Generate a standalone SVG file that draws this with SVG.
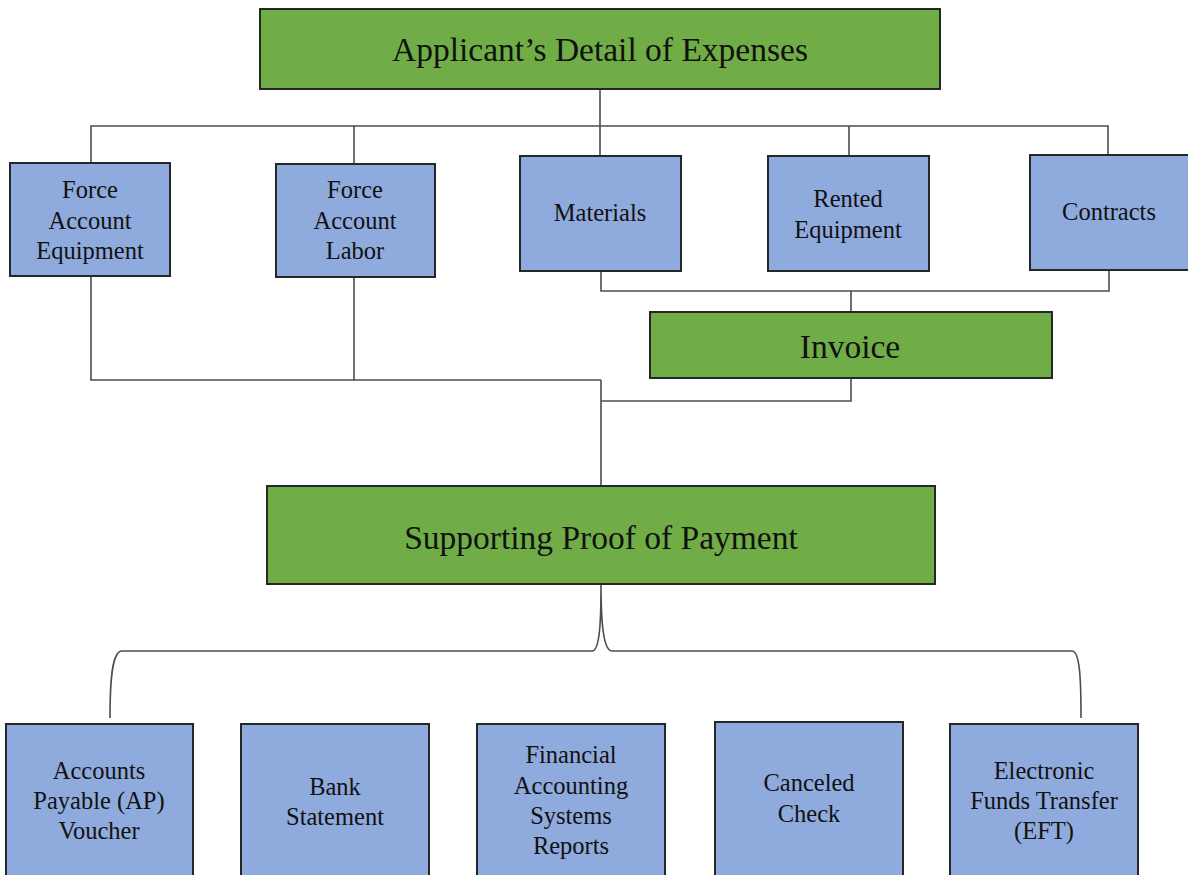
<svg xmlns="http://www.w3.org/2000/svg" width="1188" height="875" viewBox="0 0 1188 875">
<style>
.g{fill:#70ad47;stroke:#262626;stroke-width:2}
.b{fill:#8faadc;stroke:#262626;stroke-width:2}
.c{fill:none;stroke:#4d4d4d;stroke-width:1.6}
text{font-family:"Liberation Serif","Times New Roman",serif;fill:#111;text-anchor:middle}
.t{font-size:33.5px}
.s{font-size:24.5px}
</style>
<rect width="1188" height="875" fill="#fff"/>
<g id="connectors">
<path class="c" d="M600 89V156M91 163V126H1108V155M354 126V164M849 126V156"/>
<path class="c" d="M601 271V291H1109V270M851 291V312"/>
<path class="c" d="M91 276V380H601M354 277V380M851 378V401H601M601 380V486"/>
<path class="c" d="M601 584C601 620 600 651 592 651H122C112 651 110 680 110 718M601 584C601 620 603 651 612 651H1072C1080 651 1081 680 1081 718"/>
</g>
<g id="applicant"><rect class="g" x="260" y="9" width="680" height="80"/><text class="t" x="600" y="61">Applicant’s Detail of Expenses</text></g>
<g id="fae"><rect class="b" x="10" y="163" width="160" height="113"/><text class="s" x="90" y="198">Force</text><text class="s" x="90" y="229">Account</text><text class="s" x="90" y="259">Equipment</text></g>
<g id="fal"><rect class="b" x="276" y="164" width="159" height="113"/><text class="s" x="355" y="198">Force</text><text class="s" x="355" y="229">Account</text><text class="s" x="355" y="259">Labor</text></g>
<g id="materials"><rect class="b" x="520" y="156" width="161" height="115"/><text class="s" x="600" y="221">Materials</text></g>
<g id="rented"><rect class="b" x="768" y="156" width="161" height="115"/><text class="s" x="848" y="207">Rented</text><text class="s" x="848" y="238">Equipment</text></g>
<g id="contracts"><rect class="b" x="1030" y="155" width="160" height="115"/><text class="s" x="1109" y="220">Contracts</text></g>
<g id="invoice"><rect class="g" x="650" y="312" width="402" height="66"/><text class="t" x="850" y="358">Invoice</text></g>
<g id="supporting"><rect class="g" x="267" y="486" width="668" height="98"/><text class="t" x="601" y="549">Supporting Proof of Payment</text></g>
<g id="ap"><rect class="b" x="6" y="724" width="187" height="160"/><text class="s" x="99" y="779">Accounts</text><text class="s" x="99" y="809">Payable (AP)</text><text class="s" x="99" y="839">Voucher</text></g>
<g id="bank"><rect class="b" x="241" y="724" width="188" height="160"/><text class="s" x="335" y="795">Bank</text><text class="s" x="335" y="825">Statement</text></g>
<g id="financial"><rect class="b" x="477" y="724" width="188" height="160"/><text class="s" x="571" y="763">Financial</text><text class="s" x="571" y="794">Accounting</text><text class="s" x="571" y="824">Systems</text><text class="s" x="571" y="854">Reports</text></g>
<g id="canceled"><rect class="b" x="715" y="722" width="188" height="160"/><text class="s" x="809" y="791">Canceled</text><text class="s" x="809" y="822">Check</text></g>
<g id="eft"><rect class="b" x="950" y="724" width="188" height="160"/><text class="s" x="1044" y="779">Electronic</text><text class="s" x="1044" y="809">Funds Transfer</text><text class="s" x="1044" y="839">(EFT)</text></g>
</svg>
